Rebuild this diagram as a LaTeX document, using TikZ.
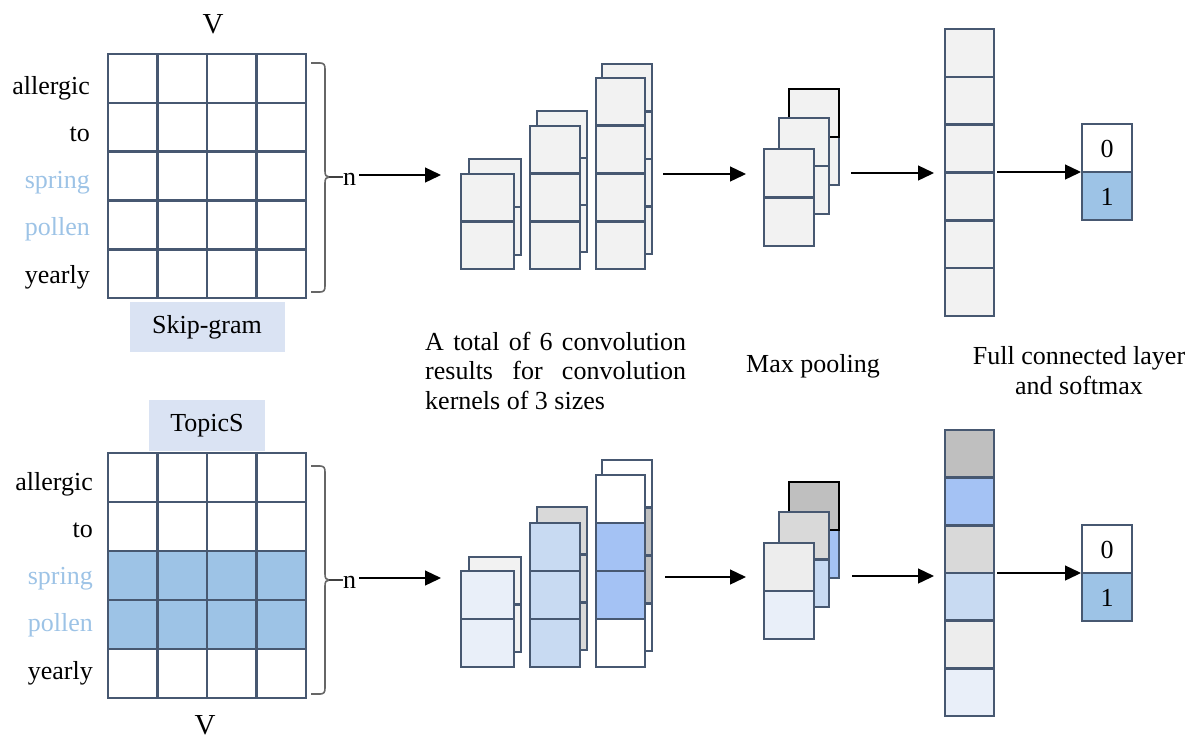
\documentclass[tikz,border=0pt]{standalone}
\usepackage{fontspec}
\setmainfont{Liberation Serif}
\usetikzlibrary{arrows.meta}
\definecolor{slate}{HTML}{475871}
\definecolor{lgray}{HTML}{F2F2F2}
\definecolor{mgray}{HTML}{D9D9D9}
\definecolor{dgray}{HTML}{BFBFBF}
\definecolor{egray}{HTML}{EDEDED}
\definecolor{lblue}{HTML}{E9EFF9}
\definecolor{mblue}{HTML}{C8DAF2}
\definecolor{bblue}{HTML}{A4C2F4}
\definecolor{sblue}{HTML}{9DC3E6}
\definecolor{boxblue}{HTML}{DAE3F3}
\tikzset{
  cell/.style={draw=slate, line width=2.6pt},
  lbl/.style={font=\fontsize{26}{30}\selectfont, inner sep=0pt},
  vlbl/.style={font=\fontsize{29}{33}\selectfont, inner sep=0pt},
  arr/.style={line width=1.3pt, -{Triangle[length=16pt,width=15pt]}},
  bracestyle/.style={draw=black!60, line width=1.6pt},
  nline/.style={draw=black!75, line width=1.4pt},
}
% x1, ytop, x2, cell height, fill list
\newcommand\cellcol[5]{%
  \foreach \f [count=\i from 0] in {#5} {
    \draw[cell, fill=\f] (#1,{#2+\i*#4}) rectangle (#3,{#2+(\i+1)*#4});
  }}
\begin{document}
\begin{tikzpicture}[x=1pt,y=-1pt]
\useasboundingbox (0,0) rectangle (1198,740);

%================ TOP ROW =================
\node[vlbl, anchor=base] (vtop) at (213,33) {V};
\foreach \c in {0,...,3}{
  \cellcol{{108+\c*49.5}}{54}{{108+(\c+1)*49.5}}{48.8}{white,white,white,white,white}
}
\foreach \t/\col [count=\i from 0] in {allergic/black,to/black,spring/sblue,pollen/sblue,yearly/black}
  \node[lbl, anchor=base east, text=\col] (lt\i) at (90,{94+\i*47.25}) {\t};
\fill[boxblue] (130,302) rectangle (285,352);
\node[lbl] (skip) at (207,327) {Skip-gram};

% brace
\draw[bracestyle] (311,63) -- (320,63) .. controls (324,63) and (325,65) .. (325,69)
  -- (325,171) .. controls (325,175) and (326,177) .. (329,177)
  .. controls (326,177) and (325,179) .. (325,183)
  -- (325,286) .. controls (325,290) and (324,292) .. (320,292) -- (311,292);
\coordinate (bt1) at (329,177);
\node[lbl, anchor=base west] (n1) at (343,185) {n};
\draw[nline] (bt1) -- (bt1 -| n1.west);
\coordinate (a1s) at (359,175);
\coordinate (a1e) at (441,175);
\draw[arr] (a1s) -- (a1e);

% conv stacks
\cellcol{469}{159}{521}{48}{lgray,lgray}
\cellcol{461}{174}{514}{47.5}{lgray,lgray}
\cellcol{537}{111}{587}{47}{lgray,lgray,lgray}
\cellcol{530}{126}{580}{47.67}{lgray,lgray,lgray}
\cellcol{602}{64}{652}{47.5}{lgray,lgray,lgray,lgray}
\cellcol{596}{78}{645}{47.75}{lgray,lgray,lgray,lgray}
\coordinate (a2s) at (663,174);
\coordinate (a2e) at (746,174);
\draw[arr] (a2s) -- (a2e);

% max pooling
\draw[cell, fill=lgray] (789,137) rectangle (839,185);
\draw[line width=2.6pt, draw=black, fill=lgray] (789,89) rectangle (839,137);
\cellcol{779}{118}{829}{48}{lgray,lgray}
\cellcol{764}{149}{814}{48.5}{lgray,lgray}
\coordinate (a3s) at (851,173);
\coordinate (a3e) at (934,173);
\draw[arr] (a3s) -- (a3e);

% fully connected
\cellcol{945}{29}{994}{47.83}{lgray,lgray,lgray,lgray,lgray,lgray}
\coordinate (a4s) at (997,172);
\coordinate (a4e) at (1081,172);
\draw[arr] (a4s) -- (a4e);

% output
\cellcol{1082}{124}{1132}{48}{white,sblue}
\node[lbl] (o0t) at (1107,149) {0};
\node[lbl] (o1t) at (1107,197) {1};

% captions
\node[lbl, anchor=base west] (c1) at (425,350) {\makebox[261pt][s]{A total of 6 convolution}};
\node[lbl, anchor=base west] (c2) at (425,379.5) {\makebox[261pt][s]{results for convolution}};
\node[lbl, anchor=base west] (c3) at (425,409) {kernels of 3 sizes};
\node[lbl, anchor=base] (mp) at (813,372) {Max pooling};
\node[lbl, anchor=base] (fc1) at (1079,364) {Full connected layer};
\node[lbl, anchor=base] (fc2) at (1079,394) {and softmax};

%================ BOTTOM ROW =================
\fill[boxblue] (149,400) rectangle (265,451);
\node[lbl] (topics) at (207,426) {TopicS};
\foreach \c in {0,...,3}{
  \cellcol{{108+\c*49.5}}{453}{{108+(\c+1)*49.5}}{49}{white,white,sblue,sblue,white}
}
\foreach \t/\col [count=\i from 0] in {allergic/black,to/black,spring/sblue,pollen/sblue,yearly/black}
  \node[lbl, anchor=base east, text=\col] (lb\i) at (93,{490+\i*47.3}) {\t};
\node[vlbl, anchor=base] (vbot) at (205,734) {V};

\draw[bracestyle] (311,466) -- (320,466) .. controls (324,466) and (325,468) .. (325,472)
  -- (325,574) .. controls (325,578) and (326,580) .. (329,580)
  .. controls (326,580) and (325,582) .. (325,586)
  -- (325,688) .. controls (325,692) and (324,694) .. (320,694) -- (311,694);
\coordinate (bt2) at (329,580);
\node[lbl, anchor=base west] (n2) at (343,588) {n};
\draw[nline] (bt2) -- (bt2 -| n2.west);
\coordinate (b1s) at (359,578);
\coordinate (b1e) at (441,578);
\draw[arr] (b1s) -- (b1e);

% conv stacks
\cellcol{469}{557}{521}{47.5}{lgray,lgray}
\cellcol{461}{571}{514}{48}{lblue,lblue}
\cellcol{537}{507}{587}{47.67}{mgray,mgray,mgray}
\cellcol{530}{523}{580}{48}{mblue,mblue,mblue}
\cellcol{602}{460}{652}{47.75}{white,dgray,dgray,white}
\cellcol{596}{475}{645}{48}{white,bblue,bblue,white}
\coordinate (b2s) at (665,577);
\coordinate (b2e) at (746,577);
\draw[arr] (b2s) -- (b2e);

% max pooling
\draw[cell, fill=bblue] (789,530) rectangle (839,578);
\draw[line width=2.6pt, draw=black, fill=dgray] (789,482) rectangle (839,530);
\cellcol{779}{512}{829}{47.5}{mgray,mblue}
\cellcol{764}{543}{814}{48}{egray,lblue}
\coordinate (b3s) at (852,576);
\coordinate (b3e) at (934,576);
\draw[arr] (b3s) -- (b3e);

% fully connected
\cellcol{945}{430}{994}{47.67}{dgray,bblue,mgray,mblue,egray,lblue}
\coordinate (b4s) at (997,573);
\coordinate (b4e) at (1081,573);
\draw[arr] (b4s) -- (b4e);

% output
\cellcol{1082}{525}{1132}{48}{white,sblue}
\node[lbl] (o0b) at (1107,550) {0};
\node[lbl] (o1b) at (1107,598) {1};
\end{tikzpicture}
\end{document}
